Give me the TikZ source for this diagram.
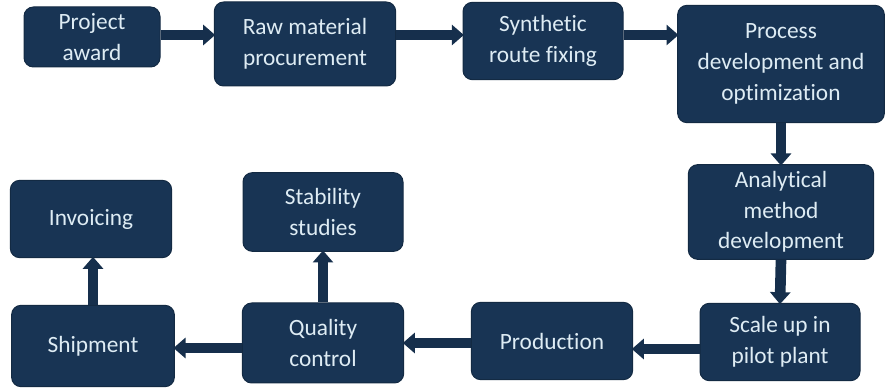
\documentclass[tikz,border=0pt]{standalone}
\usepackage{fontspec}
\setmainfont[Ligatures=NoCommon]{Carlito}
\usetikzlibrary{arrows.meta}
\definecolor{boxnavy}{RGB}{24,52,84}
\definecolor{boxtext}{RGB}{222,236,244}
\tikzset{every picture/.style={line width=0.75pt}}
\tikzset{
  box/.style={fill=boxnavy, draw=boxnavy!80!black, rounded corners=7pt, align=center,
    text=boxtext, font=\fontsize{17.5}{23}\selectfont, inner sep=0pt},
  link/.style={draw=boxnavy!90!black, line width=8pt,
    -{Triangle[length=9pt,width=15pt]}, shorten >=-1pt},
}

\begin{document}
\begin{tikzpicture}[x=0.75pt,y=0.75pt,yscale=-1,xscale=1]
	\useasboundingbox (0,0) rectangle (886,391);
	
	% top row
	\node [box, minimum width=102pt, minimum height=45pt] (award) at (92,37) {Project\\award};
	\node [box, minimum width=136pt, minimum height=63pt] (raw) at (305,44) {Raw material\\procurement};
	\node [box, minimum width=120pt, minimum height=58pt] (route) at (543,41) {Synthetic\\route fixing};
	\node [box, minimum width=155pt, minimum height=88pt] (process) at (781,64) {Process\\development and\\optimization};
	% right column
	\node [box, minimum width=139pt, minimum height=71pt] (analytic) at (781,212) {Analytical\\method\\development};
	% bottom row
	\node [box, minimum width=120pt, minimum height=58pt] (scale) at (780,342) {Scale up in\\pilot plant};
	\node [box, minimum width=121pt, minimum height=58pt] (production) at (552,341) {Production};
	\node [box, minimum width=121pt, minimum height=60pt] (quality) at (323,343) {Quality\\control};
	\node [box, minimum width=122pt, minimum height=61pt] (shipment) at (93,346) {Shipment};
	% upper left
	\node [box, minimum width=121pt, minimum height=58pt] (invoice) at (91,219) {Invoicing};
	\node [box, minimum width=120pt, minimum height=59pt] (stability) at (323,212) {Stability\\studies};
	
	% connectors
	\draw [link] (award.east |- 0,35) -- (raw.west |- 0,35);
	\draw [link] (raw.east |- 0,35) -- (route.west |- 0,35);
	\draw [link] (route.east |- 0,35) -- (process.west |- 0,35);
	\draw [link] (process.south) -- (analytic.north);
	\draw [link] (analytic.south) -- (scale.north);
	\draw [link] (scale.west |- 0,349) -- (production.east |- 0,349);
	\draw [link] (production.west |- 0,343) -- (quality.east |- 0,343);
	\draw [link] (quality.west |- 0,348) -- (shipment.east |- 0,348);
	\draw [link] (shipment.north -| 93,0) -- (invoice.south -| 93,0);
	\draw [link] (quality.north) -- (stability.south);
	
\end{tikzpicture}
\end{document}
